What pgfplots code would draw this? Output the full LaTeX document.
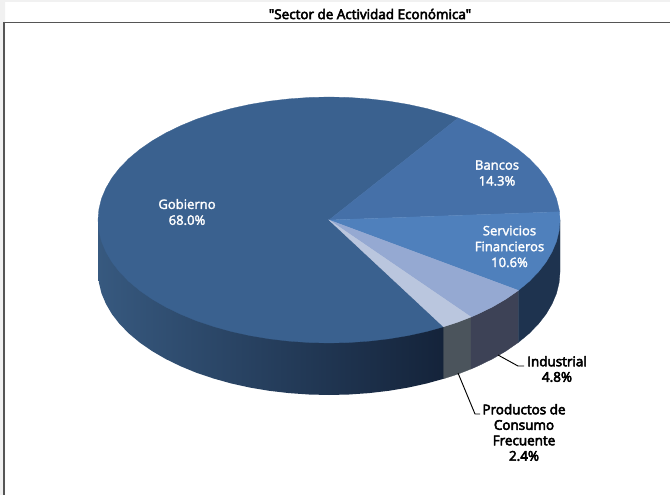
\documentclass[border=0pt]{standalone}
\usepackage{pgfplots}
\pgfplotsset{compat=1.18}
\usepackage{fontspec}
\setmainfont{Open Sans}[Ligatures=TeXOff]
\newfontfamily\innerfont{Open Sans}[Ligatures=TeXOff,FakeBold=2.2]
\newfontfamily\outerfont{Open Sans}[Ligatures=TeXOff,FakeBold=4]

\definecolor{gobTop}{HTML}{3A618F}
\definecolor{banTop}{HTML}{4570A8}
\definecolor{serTop}{HTML}{4F80BC}
\definecolor{indTop}{HTML}{95A9D2}
\definecolor{proTop}{HTML}{BAC6DE}
\definecolor{serSide}{HTML}{1E334F}
\definecolor{indSide}{HTML}{3D4256}
\definecolor{proSide}{HTML}{4B545C}
\definecolor{gobL}{HTML}{37597F}
\definecolor{gobM}{HTML}{2C4A6E}
\definecolor{gobR}{HTML}{14233A}
\definecolor{frameCol}{HTML}{555555}
\definecolor{paneCol}{HTML}{F1F1F1}

\tikzset{
    inner/.style={align=center, text=white, font=\innerfont\fontsize{9.8}{11.9}\selectfont},
    outer/.style={align=center, text=black, font=\outerfont\fontsize{10.1}{11.6}\selectfont},
}

\begin{document}
\begin{tikzpicture}
\begin{axis}[
    scale only axis,
    width=502.5pt,
    height=371.25pt,
    xmin=0, xmax=670,
    ymin=0, ymax=495,
    y dir=reverse,
    hide axis,
    clip=true,
]
% page and frame
\addplot[fill=white, draw=none] coordinates {(0,0) (670,0) (670,495) (0,495)} -- cycle;
\addplot[fill=paneCol, draw=none] coordinates {(0,0) (670,0) (670,2) (5,2) (5,495) (0,495)} -- cycle;
\addplot[draw=frameCol, line width=1.3pt] coordinates {(4,495) (4,22.5) (670,22.5)};

% side walls
\addplot[left color=gobL, middle color=gobM, right color=gobR, draw=none] coordinates {
    (329,220) (98,220) (98,272) (98.9,282.7) (101.5,293.4) (105.9,303.8) (111.9,314.1)
    (119.6,324) (128.9,333.5) (139.8,342.6) (152.1,351.1) (165.7,359) (180.5,366.2)
    (196.5,372.8) (213.5,378.5) (231.4,383.5) (250,387.6) (269.2,390.8) (288.9,393.1)
    (308.9,394.5) (329,395) (349.1,394.5) (369.1,393.1) (388.8,390.8) (408,387.6)
    (426.6,383.5) (443.5,378.8) (443.5,326.8)} -- cycle;
\addplot[fill=proSide, draw=proSide, line width=.2pt] coordinates {
    (443.5,326.8) (458.2,322) (471,317) (471,369) (458.2,374) (443.5,378.8)} -- cycle;
\addplot[fill=indSide, draw=indSide, line width=.2pt] coordinates {
    (471,317) (477.5,314.2) (492.3,307) (505.9,299.1) (518.4,290.4)
    (518.4,342.4) (505.9,351.1) (492.3,359) (477.5,366.2) (471,369)} -- cycle;
\addplot[fill=serSide, draw=serSide, line width=.2pt] coordinates {
    (518.4,290.4) (560,220) (560,272) (559.1,282.7) (556.5,293.4) (552.1,303.8)
    (546.1,314.1) (538.4,324) (529.1,333.5) (518.4,342.4)} -- cycle;

% top slices
\addplot[fill=gobTop, draw=gobTop, line width=.2pt] coordinates {
    (329,220) (458.2,118) (444.5,113.5) (426.6,108.5) (408,104.4) (388.8,101.2) (369.1,98.9)
    (349.1,97.5) (329,97) (308.9,97.5) (288.9,98.9) (269.2,101.2) (250,104.4) (231.4,108.5)
    (213.5,113.5) (196.5,119.2) (180.5,125.8) (165.7,133) (152.1,140.9) (139.8,149.4)
    (128.9,158.5) (119.6,168) (111.9,177.9) (105.9,188.2) (101.5,198.6) (98.9,209.3) (98,220)
    (98.9,230.7) (101.5,241.4) (105.9,251.8) (111.9,262.1) (119.6,272) (128.9,281.5)
    (139.8,290.6) (152.1,299.1) (165.7,307) (180.5,314.2) (196.5,320.8) (213.5,326.5)
    (231.4,331.5) (250,335.6) (269.2,338.8) (288.9,341.1) (308.9,342.5) (329,343)
    (349.1,342.5) (369.1,341.1) (388.8,338.8) (408,335.6) (426.6,331.5) (443.5,326.8)} -- cycle;
\addplot[fill=banTop, draw=banTop, line width=.2pt] coordinates {
    (329,220) (559.5,211.8) (559.1,209.3) (556.5,198.6) (552.1,188.2) (546.1,177.9) (538.4,168)
    (529.1,158.5) (518.2,149.4) (505.9,140.9) (492.3,133) (477.5,125.8) (461.5,119.2) (458.2,118)} -- cycle;
\addplot[fill=serTop, draw=serTop, line width=.2pt] coordinates {
    (329,220) (518.4,290.4) (529.1,281.5) (538.4,272) (546.1,262.1) (552.1,251.8)
    (556.5,241.4) (559.1,230.7) (560,220) (559.5,211.8)} -- cycle;
\addplot[fill=indTop, draw=indTop, line width=.2pt] coordinates {
    (329,220) (471,317) (477.5,314.2) (492.3,307) (505.9,299.1) (518.4,290.4)} -- cycle;
\addplot[fill=proTop, draw=proTop, line width=.2pt] coordinates {
    (329,220) (443.5,326.8) (458.2,322) (471,317)} -- cycle;

% leader lines
\addplot[draw=black, line width=.7pt] coordinates {(498,355) (518,366) (524,366)};
\addplot[draw=black, line width=.7pt] coordinates {(458,373) (475,414) (480,414)};

% labels
\node[outer] at (axis cs:370,14) {"Sector de Actividad Económica"};
\node[inner] at (axis cs:187,212) {Gobierno\\68.0\%};
\node[inner] at (axis cs:497,173) {Bancos\\14.3\%};
\node[inner] at (axis cs:509.5,246.5) {Servicios\\Financieros\\10.6\%};
\node[outer] at (axis cs:557,369) {Industrial\\4.8\%};
\node[outer] at (axis cs:524,432.5) {Productos de\\Consumo\\Frecuente\\2.4\%};
\end{axis}
\end{tikzpicture}
\end{document}
